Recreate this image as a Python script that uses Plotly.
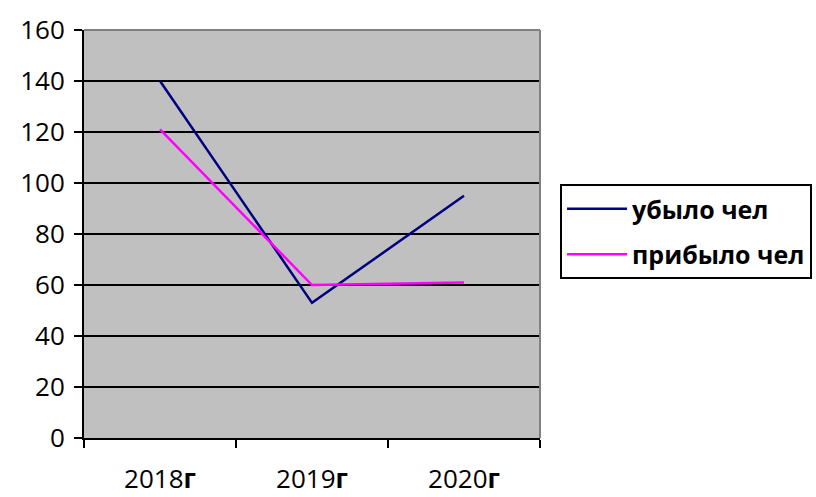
import plotly.graph_objects as go

categories = ["2018<b>г</b>", "2019<b>г</b>", "2020<b>г</b>"]
ubylo = [140, 53, 95]
pribylo = [121, 60, 61]
y_ticks = [0, 20, 40, 60, 80, 100, 120, 140, 160]

fig = go.Figure()
fig.add_trace(go.Scatter(x=categories, y=ubylo, mode="lines", name="<b>убыло чел</b>",
                         legendgroup="a", line=dict(color="#000080", width=2.5)))
fig.add_trace(go.Scatter(x=categories, y=pribylo, mode="lines", name="<b>прибыло чел</b>",
                         legendgroup="b", line=dict(color="#FF00FF", width=2.5)))

fig.update_layout(
    width=816, height=497,
    margin=dict(l=84, r=276, t=30, b=59, autoexpand=False),
    paper_bgcolor="white",
    plot_bgcolor="#C0C0C0",
    font=dict(family="Open Sans", size=26, color="black"),
    showlegend=True,
    legend=dict(x=1.044, y=0.6225, xanchor="left", yanchor="top",
                bordercolor="black", borderwidth=2, bgcolor="white",
                font=dict(size=25, color="black"), traceorder="grouped",
                tracegroupgap=10, itemwidth=60),
    xaxis=dict(type="category", range=[-0.5, 2.5], showgrid=False, automargin=False,
               showline=True, linecolor="black", linewidth=2,
               ticks="outside", tickson="boundaries", ticklen=8, tickwidth=2, tickcolor="black",
               ticklabelstandoff=17, tickfont=dict(size=26)),
    yaxis=dict(range=[0, 160], tickvals=y_ticks, showgrid=True, gridcolor="black", gridwidth=2,
               automargin=False,
               showline=True, linecolor="black", linewidth=2, zeroline=False,
               ticks="outside", ticklen=8, tickwidth=2, tickcolor="black",
               ticklabelstandoff=4, tickfont=dict(size=26)),
)
fig.add_shape(type="line", xref="paper", yref="paper", x0=0, x1=1, y0=1, y1=1,
              line=dict(color="#808080", width=2))
fig.add_shape(type="line", xref="paper", yref="paper", x0=1, x1=1, y0=0, y1=1,
              line=dict(color="#808080", width=2))

fig.write_html("out.html", config={"displayModeBar": False},
               post_script="document.body.style.margin='0';document.body.style.overflow='hidden';")
